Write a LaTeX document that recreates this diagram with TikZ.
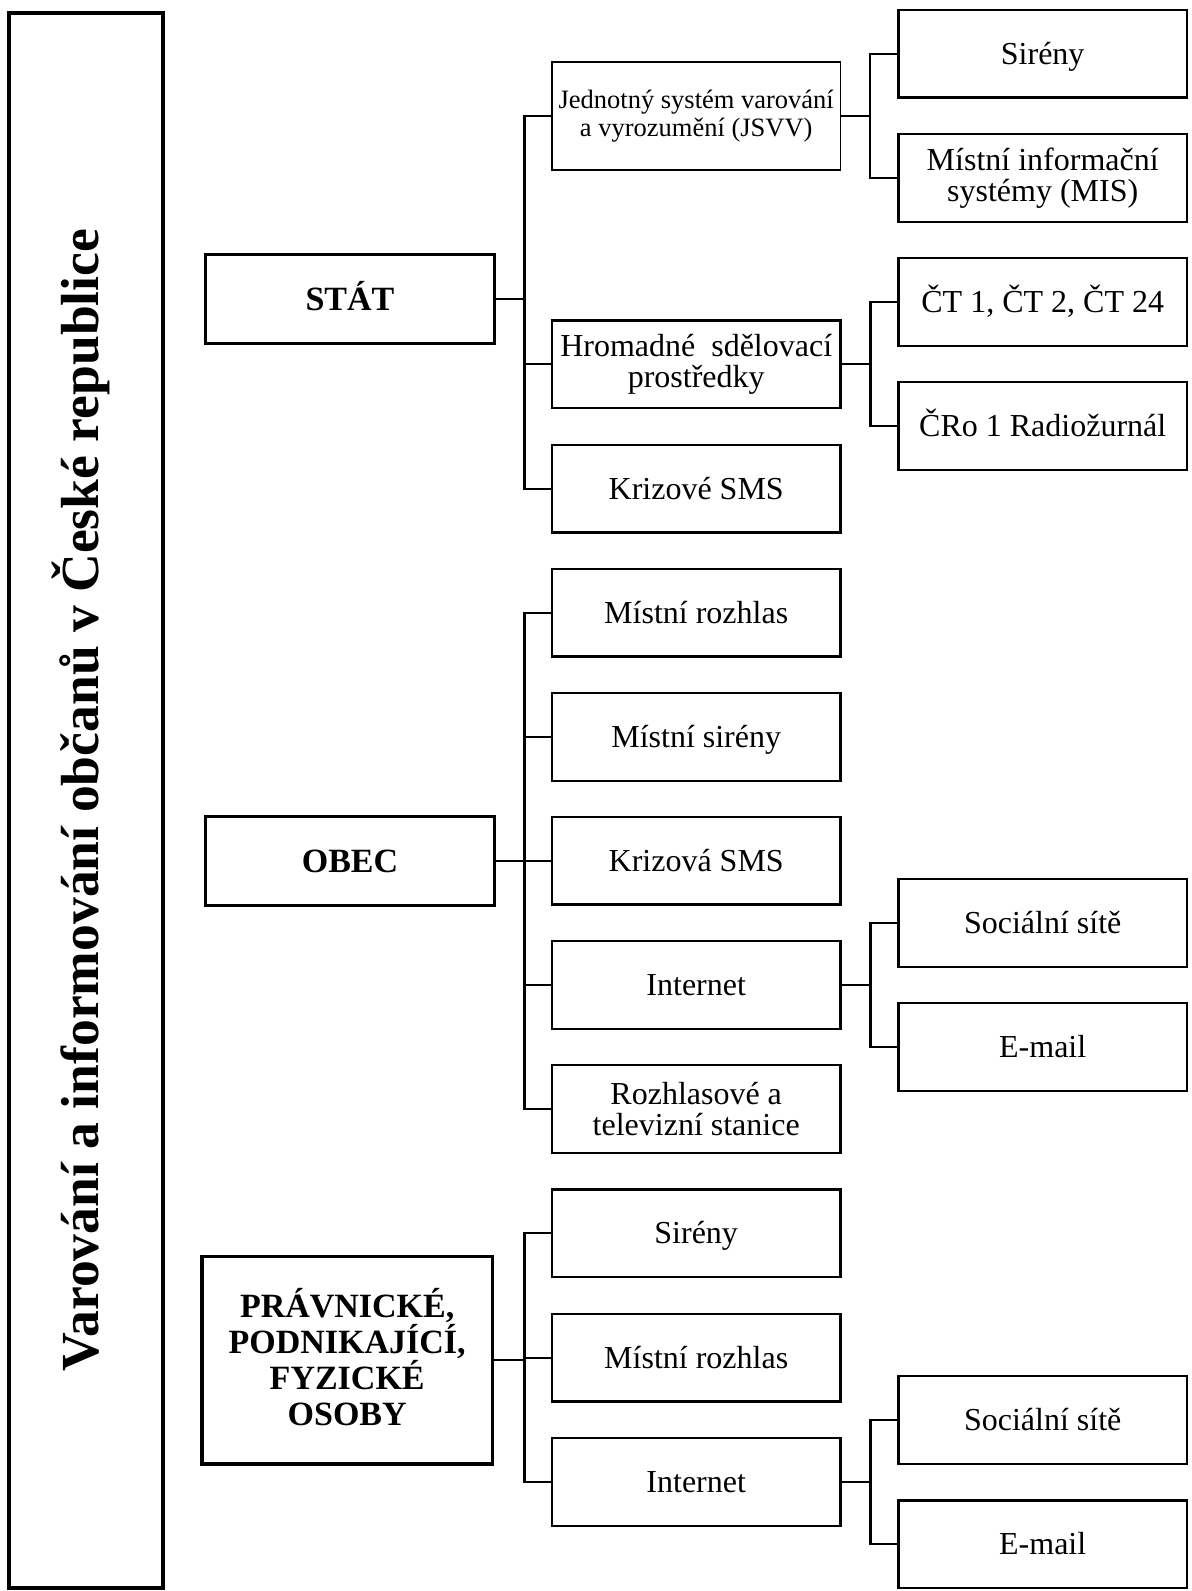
\documentclass[tikz,border=0pt]{standalone}
\usepackage{fontspec}
\setmainfont{Liberation Serif}
\begin{document}
\begin{tikzpicture}[x=0.5pt,y=-0.5pt,
  leaf/.style={draw, line width=1.15pt, minimum width=144.25pt, minimum height=43.75pt,
    inner sep=0pt, align=center, font=\fontsize{16}{15.5}\selectfont},
  leafone/.style={leaf, text height=14.1pt, text depth=3.5pt},
  smallleaf/.style={leaf, line width=0.65pt, minimum height=54pt,
    font=\fontsize{13.25}{14.3}\selectfont},
  cat/.style={draw, line width=1.75pt, minimum width=144.5pt, minimum height=44.5pt,
    inner sep=0pt, align=center, font=\fontsize{17}{18}\selectfont\bfseries},
  catone/.style={cat, text height=15pt, text depth=3.75pt},
  link/.style={line width=1.15pt}]
\useasboundingbox (0,0) rectangle (1192,1591);

% frame and title
\node[draw, line width=1.75pt, minimum width=77pt, minimum height=787.5pt, inner sep=0pt] (frame) at (86,800.5) {};
\node[rotate=90, anchor=base, font=\fontsize{26.8}{30}\selectfont\bfseries] (title) at (98.5,800)
  {Varování a informování občanů v České republice};

% categories
\node[catone] (stat) at (350,299.1) {STÁT};
\node[catone] (obec) at (350,860.9) {OBEC};
\node[cat, minimum width=145.25pt, minimum height=103.65pt] (prav) at (347.2,1360.3)
  {\raisebox{0pt}[11.3pt][0pt]{PRÁVNICKÉ,}\\PODNIKAJÍCÍ,\\FYZICKÉ\\OSOBY};

% STAT children
\node[smallleaf] (jsvv) at (696.2,116) {Jednotný systém varování\\a vyrozumění (JSVV)};
\node[leaf] (hsp) at (696.2,364.3) {Hromadné~ sdělovací\\prostředky};
\node[leafone] (ksms) at (696.2,488.7) {Krizové SMS};
\node[leafone] (sir1) at (1042.7,53.7) {Sirény};
\node[leaf] (mis) at (1042.7,178) {Místní informační\\systémy (MIS)};
\node[leafone] (ct) at (1042.7,302) {ČT 1, ČT 2, ČT 24};
\node[leafone] (cro) at (1042.7,426) {ČRo 1 Radiožurnál};

% OBEC children
\node[leafone] (mroz1) at (696.2,612.7) {Místní rozhlas};
\node[leafone] (msir) at (696.2,737) {Místní sirény};
\node[leafone] (ksms2) at (696.2,860.7) {Krizová SMS};
\node[leafone] (int1) at (696.2,985) {Internet};
\node[leaf] (rts) at (696.2,1109) {Rozhlasové a\\televizní stanice};
\node[leafone] (soc1) at (1042.7,923) {Sociální sítě};
\node[leafone] (mail1) at (1042.7,1047) {E-mail};

% PRAV children
\node[leafone] (sir2) at (696.2,1233.3) {Sirény};
\node[leafone] (mroz2) at (696.2,1357.7) {Místní rozhlas};
\node[leafone] (int2) at (696.2,1482) {Internet};
\node[leafone] (soc2) at (1042.7,1420) {Sociální sítě};
\node[leafone] (mail2) at (1042.7,1544.3) {E-mail};

% trunk coordinates
\path (stat.east) ++(28.3,0) coordinate (ta);
\path (obec.east) ++(28.3,0) coordinate (tb);
\path (prav.east) ++(30.35,0) coordinate (tc);
\path (jsvv.east) ++(29,0) coordinate (sa);
\path (hsp.east) ++(29,0) coordinate (sb);
\path (int1.east) ++(29,0) coordinate (sc);
\path (int2.east) ++(29,0) coordinate (sd);

% connectors
\draw[link] (stat.east) -- (ta);
\foreach \c in {jsvv,hsp,ksms} \draw[link] (ta) |- (\c.west);
\draw[link] (obec.east) -- (tb);
\foreach \c in {mroz1,msir,ksms2,int1,rts} \draw[link] (tb) |- (\c.west);
\draw[link] (prav.east) -- (tc);
\foreach \c in {sir2,mroz2,int2} \draw[link] (tc) |- (\c.west);

\draw[link] (jsvv.east) -- (sa);
\foreach \c in {sir1,mis} \draw[link] (sa) |- (\c.west);
\draw[link] (hsp.east) -- (sb);
\foreach \c in {ct,cro} \draw[link] (sb) |- (\c.west);
\draw[link] (int1.east) -- (sc);
\foreach \c in {soc1,mail1} \draw[link] (sc) |- (\c.west);
\draw[link] (int2.east) -- (sd);
\foreach \c in {soc2,mail2} \draw[link] (sd) |- (\c.west);
\end{tikzpicture}
\end{document}
